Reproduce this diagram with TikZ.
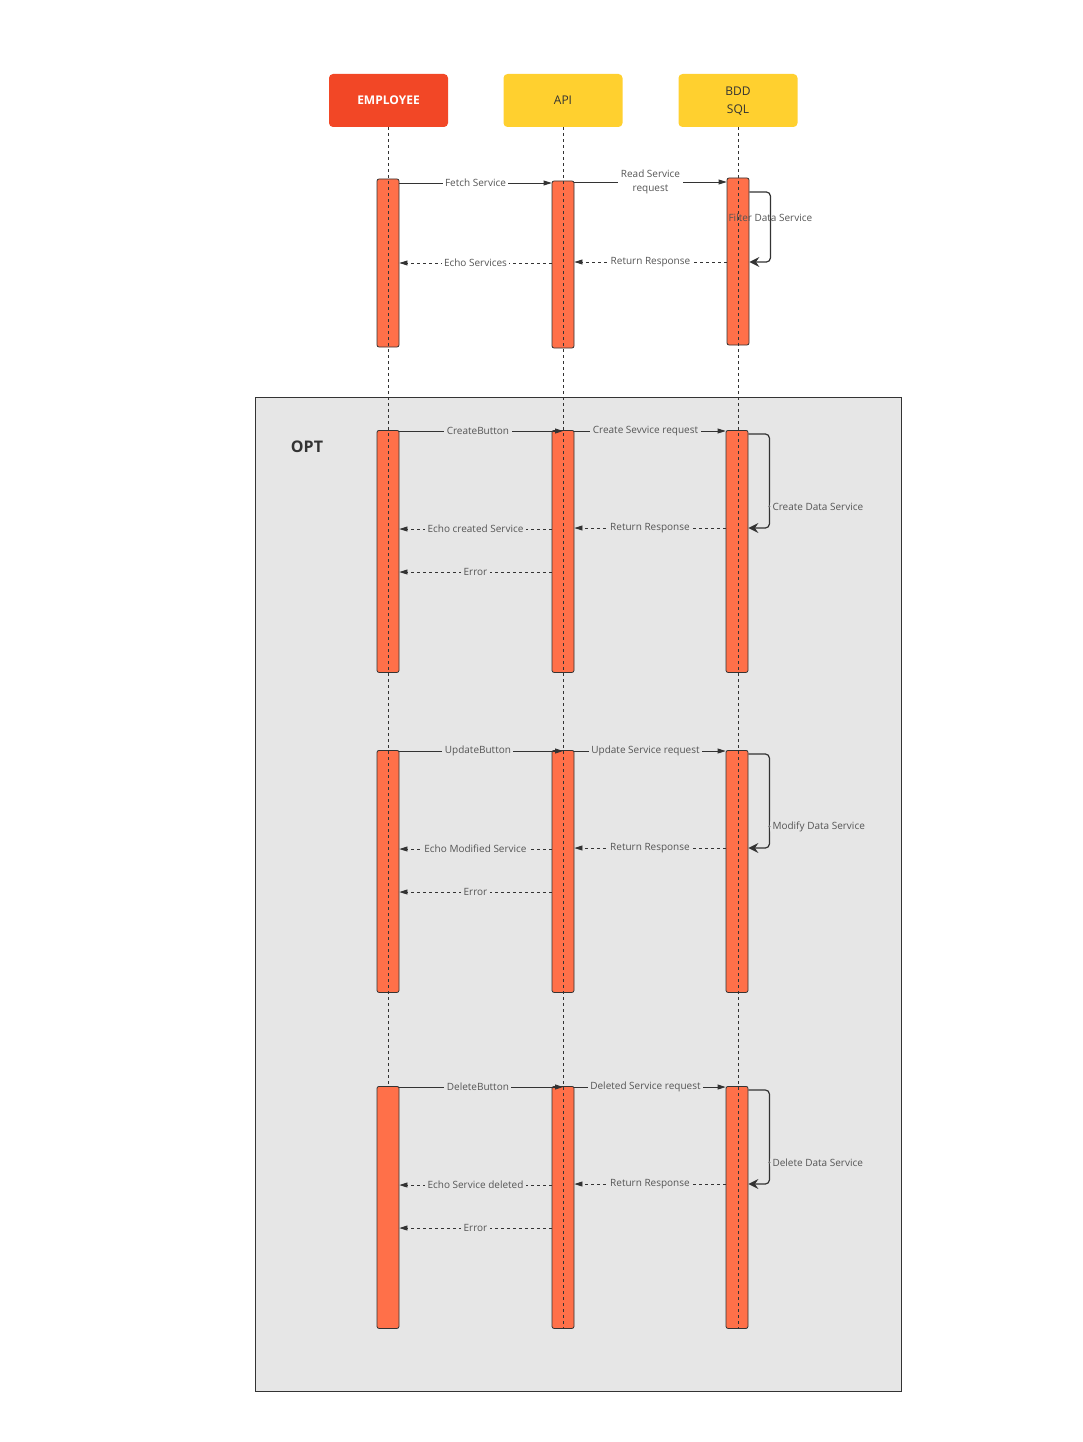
\documentclass[tikz,border=0pt]{standalone}
\usepackage{fontspec}
\setmainfont{Open Sans}
\usetikzlibrary{arrows.meta}
\definecolor{HeadRed}{HTML}{F24726}
\definecolor{HeadYellow}{HTML}{FFD02F}
\definecolor{BarCoral}{HTML}{FF7049}
\definecolor{OptGray}{HTML}{E6E6E6}
\definecolor{Ink}{HTML}{333333}
\definecolor{LabelGray}{HTML}{555555}

\begin{document}
\begin{tikzpicture}[x=1pt,y=-1pt,
    head/.style={rounded corners=4pt,minimum width=119pt,minimum height=53pt,
      font=\fontsize{12}{18}\selectfont,align=center,text=Ink},
    bar/.style={draw=Ink,fill=BarCoral,rounded corners=2pt,minimum width=22pt,
      line width=0.8pt,inner sep=0pt},
    life/.style={Ink,line width=0.7pt,dash pattern=on 3pt off 3pt},
    lbl/.style={font=\fontsize{10}{14}\selectfont,text=LabelGray,fill=#1,
      inner xsep=2.5pt,inner ysep=1.5pt,align=center},
    lbl/.default=white,
    call/.style={Ink,line width=0.8pt,-{Triangle[length=8pt,width=5pt]}},
    reply/.style={call,dash pattern=on 3pt off 3pt},
    selfloop/.style={draw=Ink,line width=1.2pt,rounded corners=4pt,
      -{Stealth[length=10pt,width=10pt,inset=3.5pt]}}]
  \useasboundingbox (0,0) rectangle (1083,1442);

  % participants
  \node[head,fill=HeadRed,text=white,font=\bfseries\fontsize{12}{14}\selectfont] (emp) at (388.5,100.5) {EMPLOYEE};
  \node[head,fill=HeadYellow] (api) at (563,100.5) {API};
  \node[head,fill=HeadYellow,text depth=-3pt] (bdd) at (738,100.5) {BDD\\SQL};

  % optional frame
  \draw[fill=OptGray,draw=Ink,line width=0.9pt] (255,397) rectangle (901,1391);
  \node[font=\bfseries\fontsize{16}{18}\selectfont,text=Ink] (opt) at (307,447) {OPT};

  % activation bars
  \node[bar,minimum height=168pt] (emp1) at (388,263) {};
  \node[bar,minimum height=167pt] (api1) at (563,264.5) {};
  \node[bar,minimum height=167pt] (bdd1) at (738,261.5) {};
  \foreach \s/\T in {2/430,3/750,4/1086} {
    \node[bar,minimum height=242pt,anchor=north] (emp\s) at (388,\T) {};
    \node[bar,minimum height=242pt,anchor=north] (api\s) at (563,\T) {};
    \node[bar,minimum height=242pt,anchor=north] (bdd\s) at (737,\T) {};
  }

  % lifelines
  \draw[life] (emp.south) -- (emp.south |- emp4.north);
  \draw[life] (api.south) -- (api.south |- api4.south);
  \draw[life] (bdd.south) -- (bdd.south |- bdd4.south);

  % fetch
  \draw[call] (emp1.east |- 0,183) -- node[lbl] {Fetch Service} (api1.west |- 0,183);
  \draw[call] (api1.east |- 0,182) -- node[lbl] {Read Service\\request} (bdd1.west |- 0,182);
  \draw[selfloop] (bdd1.east |- 0,192) -- ++(21,0) -- ++(0,70)
    node[pos=0.37,lbl=none] {Filter Data Service} -- (bdd1.east |- 0,262);
  \draw[reply] (bdd1.west |- 0,262) -- node[lbl] {Return Response} (api1.east |- 0,262);
  \draw[reply] (api1.west |- 0,263) -- node[lbl] {Echo Services} (emp1.east |- 0,263);

  % create / update / delete
  \foreach \s/\T/\btn/\req/\act/\echo in {
      2/430/CreateButton/Create Sevvice request/Create Data Service/Echo created Service,
      3/750/UpdateButton/Update Service request/Modify Data Service/Echo Modified Service,
      4/1086/DeleteButton/Deleted Service request/Delete Data Service/Echo Service deleted} {
    \pgfmathtruncatemacro\yreq{\T+1}
    \pgfmathtruncatemacro\yloop{\T+4}
    \pgfmathtruncatemacro\yret{\T+98}
    \pgfmathtruncatemacro\yecho{\T+99}
    \pgfmathtruncatemacro\yerr{\T+142}
    \draw[call] (emp\s.east |- 0,\yreq) -- node[lbl=OptGray,pos=0.48] {\btn} (api\s.center |- 0,\yreq);
    \draw[call] (api\s.east |- 0,\yreq) -- node[lbl=OptGray,pos=0.47] {\req} (bdd\s.west |- 0,\yreq);
    \draw[selfloop] (bdd\s.east |- 0,\yloop) -- ++(21,0) -- ++(0,94)
      coordinate[pos=0.77] (dot\s)
      node[pos=0.77,anchor=west,lbl=OptGray,inner sep=2.5pt] {\act} -- (bdd\s.east |- 0,\yret);
    \fill[Ink!70] (dot\s) circle (1.2);
    \draw[reply] (bdd\s.west |- 0,\yret) -- node[lbl=OptGray] {Return Response} (api\s.east |- 0,\yret);
    \draw[reply] (api\s.west |- 0,\yecho) -- node[lbl=OptGray] {\echo} (emp\s.east |- 0,\yecho);
    \draw[reply] (api\s.west |- 0,\yerr) -- node[lbl=OptGray] {Error} (emp\s.east |- 0,\yerr);
  }
\end{tikzpicture}
\end{document}
